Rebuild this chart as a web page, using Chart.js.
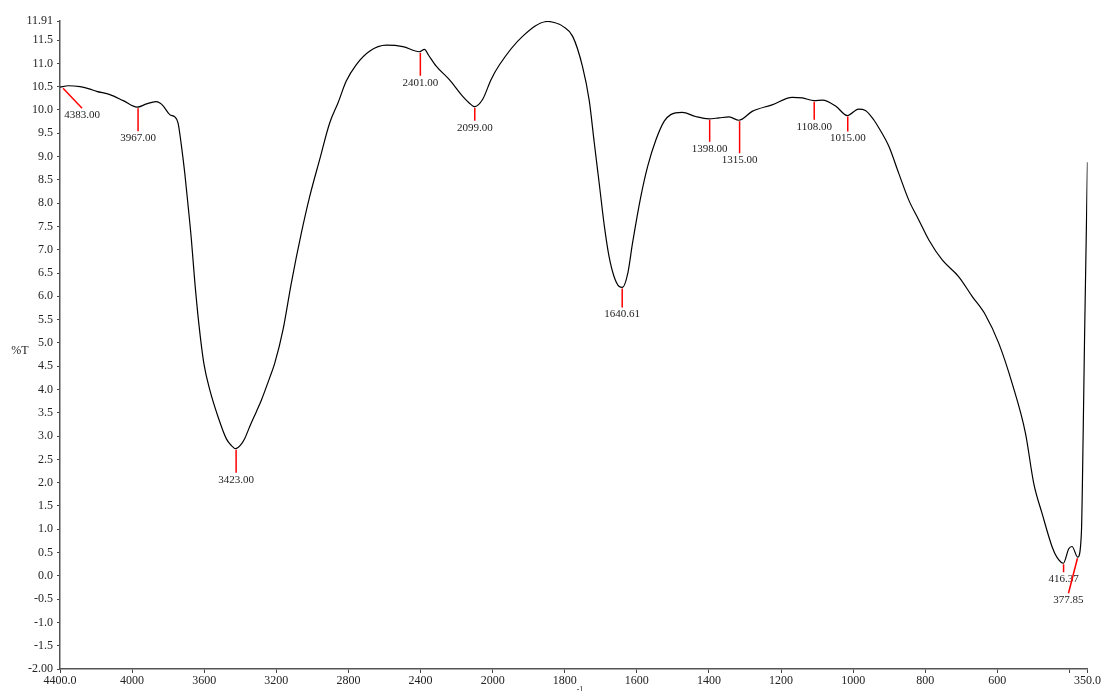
<!DOCTYPE html>
<html>
<head>
<meta charset="utf-8">
<script src="https://cdn.jsdelivr.net/npm/chart.js@4.4.1/dist/chart.umd.min.js"></script>
<style>
  body { margin: 0; background: #fff; }
  #wrap { width: 1102px; height: 691px; position: relative; }
</style>
</head>
<body>
<div id="wrap"><canvas id="ftirChart"></canvas></div>
<script>
// wavenumber (cm-1)
const wavenumbers = [
  4400, 4354, 4289, 4243, 4197, 4123, 4049, 3972, 3920, 3868, 3846, 3828, 3791, 3763, 3745,
  3726, 3708, 3689, 3671, 3652, 3630, 3602, 3569, 3523, 3477, 3450, 3425, 3400, 3375, 3348,
  3310, 3283, 3237, 3209, 3163, 3117, 3061, 3015, 2960, 2904, 2858, 2812, 2757, 2683, 2590,
  2498, 2406, 2378, 2356, 2313, 2240, 2166, 2130, 2101, 2055, 2009, 1981, 1917, 1847,
  1815, 1806, 1778, 1751, 1732, 1718, 1704, 1690, 1677, 1663, 1649, 1640, 1625, 1612, 1589,
  1570, 1547, 1524, 1506, 1474, 1437, 1400, 1372, 1344, 1317, 1280, 1225, 1169, 1141, 1108,
  1085, 1048, 1016, 985, 966, 943, 929, 901, 874, 846, 818, 790, 753, 707, 670,
  633, 596, 559, 522, 499, 476, 448, 435, 417, 402, 393, 377, 367, 362, 358, 350
];
// %T at each wavenumber
const transmittance = [
  10.49, 10.52, 10.50, 10.46, 10.40, 10.33, 10.20, 10.06, 10.13, 10.18, 10.15, 10.09, 9.90, 9.85, 9.72,
  9.22, 8.65, 7.93, 7.21, 6.30, 5.42, 4.56, 3.99, 3.41, 2.94, 2.80, 2.73, 2.80, 2.95, 3.20,
  3.53, 3.77, 4.25, 4.56, 5.28, 6.28, 7.36, 8.14, 8.93, 9.72, 10.15, 10.62, 10.97, 11.26, 11.39,
  11.36, 11.25, 11.30, 11.18, 10.94, 10.65, 10.29, 10.15, 10.07, 10.23, 10.65, 10.97, 11.58, 11.90,
  11.84, 11.80, 11.58, 10.94, 10.20, 9.29, 8.40, 7.50, 6.85, 6.42, 6.21, 6.19, 6.50, 7.14, 8.14,
  8.79, 9.36, 9.76, 9.90, 9.95, 9.86, 9.81, 9.83, 9.85, 9.78, 9.97, 10.11, 10.27, 10.26, 10.20,
  10.21, 10.08, 9.88, 10.02, 9.99, 9.79, 9.62, 9.22, 8.65, 8.07, 7.64, 7.21, 6.78, 6.42, 6.00,
  5.60, 4.99, 4.13, 3.06, 1.98, 1.34, 0.62, 0.40, 0.27, 0.58, 0.63, 0.40, 0.91, 3.06, 5.20, 8.88
];

// picked peaks
const peakWn = [4383, 3967, 3423, 2401, 2099, 1640.61, 1398, 1315, 1108, 1015, 416.37, 377.85];
const peakT = [10.49, 10.06, 2.73, 11.25, 10.07, 6.19, 9.81, 9.78, 10.20, 9.88, 0.27, 0.40];
const peakLabels = ["4383.00", "3967.00", "3423.00", "2401.00", "2099.00", "1640.61",
  "1398.00", "1315.00", "1108.00", "1015.00", "416.37", "377.85"];

const xTicks = [4400, 4000, 3600, 3200, 2800, 2400, 2000, 1800, 1600, 1400, 1200, 1000, 800, 600, 400, 350];
const yTicks = [-2, -1.5, -1, -0.5, 0, 0.5, 1, 1.5, 2, 2.5, 3, 3.5, 4, 4.5, 5, 5.5, 6, 6.5,
  7, 7.5, 8, 8.5, 9, 9.5, 10, 10.5, 11, 11.5, 11.91];

const X_MAX = 4400, X_MIN = 350, X_BREAK = 2000;
const Y_MIN = -2, Y_MAX = 11.91;

// spectrometer x axis: scale halves above 2000 cm-1
const toU = (wn) => wn >= X_BREAK ? (X_MAX - wn) / 2 : (X_MAX - X_BREAK) / 2 + (X_BREAK - wn);
const U_END = toU(X_MIN);

class FtirScale extends Chart.LinearScale {
  static id = "ftir";
  static defaults = {};
  buildTicks() {
    return xTicks.map((v) => ({ value: v }));
  }
  getPixelForValue(value) {
    return this.left + (this.width * toU(value)) / U_END;
  }
  getValueForPixel(pixel) {
    const u = ((pixel - this.left) / this.width) * U_END;
    const uBreak = (X_MAX - X_BREAK) / 2;
    return u <= uBreak ? X_MAX - 2 * u : X_BREAK - (u - uBreak);
  }
}
Chart.register(FtirScale);

const FONT = '"Liberation Serif", "Times New Roman", serif';

// leader line offsets (dx, dy) from the curve for each peak label
const leaders = [[19, 20], [0, 23], [0, 23], [0, 23], [0, 13], [0, 19],
  [0, 22], [0, 32], [0, 18], [0, 15], [0, 8], [-9, 35]];

const peakMarkers = {
  id: "peakMarkers",
  afterDatasetsDraw(chart) {
    const { ctx, scales } = chart;
    const x = scales.x, y = scales.y;
    ctx.save();
    ctx.lineWidth = 1.5;
    ctx.strokeStyle = "#ff0000";
    ctx.font = "11px " + FONT;
    ctx.fillStyle = "#222";
    ctx.textAlign = "center";
    ctx.textBaseline = "middle";
    peakWn.forEach((wn, i) => {
      const px = x.getPixelForValue(wn);
      const py = y.getPixelForValue(peakT[i]) + 1;
      const [dx, dy] = leaders[i];
      ctx.beginPath();
      ctx.moveTo(px, py);
      ctx.lineTo(px + dx, py + dy);
      ctx.stroke();
      ctx.fillText(peakLabels[i], px + dx, py + dy + 7);
    });
    // axis titles
    ctx.font = "12px " + FONT;
    ctx.fillText("%T", 20, 351);
    ctx.textBaseline = "top";
    ctx.fillText("cm", 567, 689);
    ctx.font = "8px " + FONT;
    ctx.fillText("-1", 580, 686);
    ctx.restore();
  }
};

const ctx = document.getElementById("ftirChart").getContext("2d");
new Chart(ctx, {
  type: "line",
  data: {
    datasets: [{
      data: wavenumbers.map((wn, i) => ({ x: wn, y: transmittance[i] })),
      borderColor: "#000",
      borderWidth: 1.2,
      pointRadius: 0,
      fill: false,
      cubicInterpolationMode: "monotone"
    }]
  },
  options: {
    responsive: true,
    maintainAspectRatio: false,
    animation: false,
    layout: { padding: { top: 21, right: 13, left: 0, bottom: 0 } },
    plugins: { legend: { display: false }, tooltip: { enabled: false } },
    scales: {
      x: {
        type: "ftir",
        min: X_MIN,
        max: X_MAX,
        afterFit: (scale) => { scale.height = 22; },
        border: { display: true, color: "#555", width: 1.5 },
        grid: { display: true, drawOnChartArea: false, drawTicks: true, tickLength: 4, color: "#444" },
        ticks: {
          autoSkip: false,
          maxRotation: 0,
          padding: 1,
          color: "#222",
          font: { family: FONT, size: 12 },
          callback: (v) => (v === X_MAX || v === X_MIN) ? v.toFixed(1) : (v === 400 ? "" : String(v))
        }
      },
      y: {
        type: "linear",
        min: Y_MIN,
        max: Y_MAX,
        afterBuildTicks: (scale) => { scale.ticks = yTicks.map((v) => ({ value: v })); },
        afterFit: (scale) => { scale.width = 60; },
        border: { display: true, color: "#555", width: 1.5 },
        grid: { display: true, drawOnChartArea: false, drawTicks: true, tickLength: 3, color: "#444" },
        ticks: {
          padding: 4,
          color: "#222",
          font: { family: FONT, size: 12 },
          callback: (v) => (v === Y_MIN || v === Y_MAX) ? v.toFixed(2) : v.toFixed(1)
        }
      }
    }
  },
  plugins: [peakMarkers]
});
</script>
</body>
</html>
